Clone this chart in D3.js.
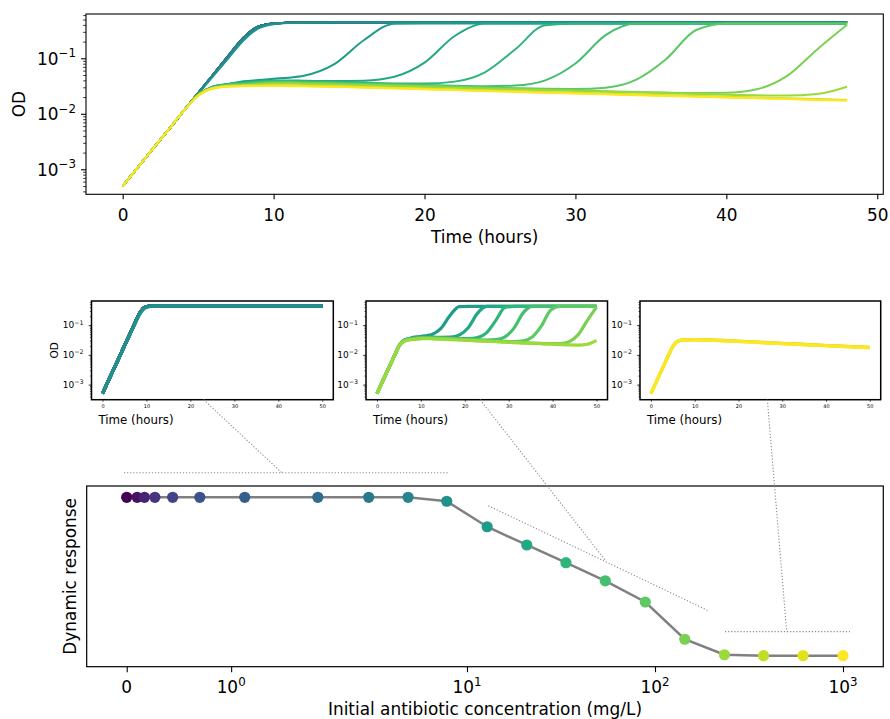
<!DOCTYPE html>
<html><head><meta charset="utf-8">
<script src="https://cdn.jsdelivr.net/npm/d3@7"></script>
<style>body{margin:0;background:#fff}svg{display:block}text{font-family:"DejaVu Sans",sans-serif;fill:#000}</style>
</head><body><svg id="chart" width="890" height="719"></svg>
<script>
// ---------------- DATA ----------------
const hours = [0,1,2,3,4,5,6,7,8,9,10,11,12,14,16,18,20,22,24,26,28,30,32,34,36,38,40,42,44,46,48];
const insetHours = [0,1.04,2.08,3.13,4.17,5.21,6.25,7.29,8.33,9.38,10.42,11.46,12.5,14.58,16.67,18.75,20.83,22.92,25,27.08,29.17,31.25,33.33,35.42,37.5,39.58,41.67,43.75,45.83,47.92,50];
const concentrations = [0,0.10,0.17,0.27,0.44,0.70,1.13,1.83,3.0,4.86,7.8,12.8,20.8,33.6,54.4,88.8,144,234,378,613,1000];
const response = [1,1,1,1,1,1,1,1,1,1,0.975,0.814,0.699,0.587,0.473,0.339,0.104,0.006,0,0,0];

const odFast = [5.0e-4,1.08e-3,2.34e-3,5.0e-3,0.0109,0.0235,0.0508,0.110,0.235,0.375,0.425,0.438,0.442,
  0.444,0.445,0.445,0.445,0.445,0.445,0.445,0.445,0.445,0.445,0.445,0.445,0.445,0.445,0.445,0.445,0.445,0.445];
const odLag = [5.0e-4,1.08e-3,2.34e-3,5.0e-3,0.0108,0.0228,0.048,0.100,0.21,0.345,0.41,0.432,0.438,
  0.44,0.44,0.44,0.44,0.44,0.44,0.44,0.44,0.44,0.44,0.44,0.44,0.44,0.44,0.44,0.44,0.44,0.44];
const odA = [5.0e-4,1.08e-3,2.34e-3,5.0e-3,0.0109,0.022,0.031,0.0345,0.0385,0.0406,0.0428,0.0448,0.0486,
  0.0779,0.214,0.419,0.425,0.425,0.425,0.425,0.425,0.425,0.425,0.425,0.425,0.425,0.425,0.425,0.425,0.425,0.425];
const odB = [5.0e-4,1.08e-3,2.34e-3,5.0e-3,0.0109,0.022,0.031,0.0345,0.0372,0.0388,0.040,0.040,0.0395,
  0.0389,0.0394,0.0464,0.0834,0.252,0.4225,0.425,0.425,0.425,0.425,0.425,0.425,0.425,0.425,0.425,0.425,0.425,0.425];
const odC = [5.0e-4,1.08e-3,2.34e-3,5.0e-3,0.0109,0.022,0.0305,0.034,0.0363,0.0378,0.039,0.039,0.0384,
  0.0374,0.0363,0.0353,0.035,0.038,0.0559,0.1437,0.3956,0.4249,0.425,0.425,0.425,0.425,0.425,0.425,0.425,0.425,0.425];
const odD = [5.0e-4,1.08e-3,2.34e-3,5.0e-3,0.0109,0.022,0.030,0.0335,0.0353,0.0369,0.038,0.038,0.0374,
  0.0365,0.0353,0.0342,0.0331,0.0319,0.0313,0.0322,0.0401,0.0804,0.2619,0.4228,0.425,0.425,0.425,0.425,0.425,0.425,0.425];
const odE = [5.0e-4,1.08e-3,2.34e-3,5.0e-3,0.0109,0.022,0.0295,0.033,0.0344,0.0359,0.037,0.037,0.0364,
  0.0355,0.0344,0.0333,0.0322,0.0311,0.030,0.029,0.0282,0.0279,0.0296,0.0408,0.0962,0.3233,0.4245,0.425,0.425,0.425,0.425];
const odF = [5.0e-4,1.08e-3,2.34e-3,5.0e-3,0.0109,0.022,0.029,0.0325,0.0335,0.0349,0.036,0.036,0.0355,
  0.0346,0.0335,0.0324,0.0313,0.0302,0.0292,0.0283,0.0274,0.0265,0.0256,0.0248,0.0241,0.0237,0.0239,0.0276,0.0476,0.1431,0.4007];
const odG = [5.0e-4,1.08e-3,2.34e-3,5.0e-3,0.0109,0.022,0.0285,0.032,0.0326,0.034,0.035,0.035,0.0345,
  0.0336,0.0326,0.0315,0.0305,0.0294,0.0284,0.0275,0.0266,0.0257,0.0249,0.0242,0.0235,0.0228,0.0221,0.0215,0.0213,0.0227,0.0308];
const odY1 = [5.0e-4,1.08e-3,2.34e-3,5.0e-3,0.0109,0.0215,0.0295,0.0318,0.0324,0.0326,0.0326,0.0325,0.0322,
  0.0314,0.0305,0.0295,0.0285,0.0275,0.0265,0.0256,0.0247,0.0239,0.0231,0.0223,0.0216,0.0209,0.0202,0.0196,0.019,0.0184,0.0178];
const odY2 = [5.0e-4,1.08e-3,2.34e-3,5.0e-3,0.0109,0.0212,0.0291,0.0313,0.0319,0.0321,0.0321,0.032,0.0317,
  0.0309,0.030,0.0291,0.0281,0.0271,0.0261,0.0252,0.0243,0.0235,0.0228,0.022,0.0213,0.0206,0.0199,0.0193,0.0187,0.0181,0.0175];
const odY3 = [5.0e-4,1.08e-3,2.34e-3,5.0e-3,0.0109,0.0209,0.0286,0.0308,0.0314,0.0316,0.0316,0.0315,0.0312,
  0.0305,0.0296,0.0286,0.0276,0.0267,0.0257,0.0248,0.024,0.0232,0.0224,0.0216,0.021,0.0203,0.0196,0.019,0.0184,0.0178,0.0173];

// one OD curve per concentration (same order as concentrations)
const odCurves = [odFast,odFast,odFast,odFast,odFast,odFast,odFast,odFast,odFast,odFast,
  odLag,odA,odB,odC,odD,odE,odF,odG,odY1,odY2,odY3];

const timeTicks = [0,10,20,30,40,50];
const odTicks = [1e-3,1e-2,1e-1];
const concTicks = [0,1,10,100,1000];
const insetGroups = [[0,1,2,3,4,5,6,7,8,9,10],[11,12,13,14,15,16,17],[18,19,20]];

// ---------------- HELPERS ----------------
const FS = 16.9;
const svg = d3.select("#chart");
const color = i => d3.interpolateViridis(i / (concentrations.length - 1));
const MINUS = "\u2212";

function powLabel(textSel, exp, size){
  textSel.append("tspan").text("10");
  textSel.append("tspan").attr("font-size", size*0.7).attr("dy", -size*0.42).text(exp < 0 ? MINUS + Math.abs(exp) : String(exp));
}
function minorLog(domain){
  const out = [];
  for (let e = -5; e <= 1; e++) for (let m = 2; m <= 9; m++){
    const v = m * Math.pow(10, e);
    if (v >= domain[0] && v <= domain[1]) out.push(v);
  }
  return out;
}

// ---------------- TOP CHART ----------------
const T = {l:86, r:883.3, t:14, b:194.3};
const xTop = d3.scaleLinear().domain([-2.43, 50.40]).range([T.l, T.r]);
const yTop = d3.scaleLog().domain([3.543e-4, 0.6283]).range([T.b, T.t]);
const gTop = svg.append("g");

svg.append("clipPath").attr("id","clipTop").append("rect").attr("x",T.l).attr("y",T.t).attr("width",T.r-T.l).attr("height",T.b-T.t);
const lineTop = d3.line().x((d,i)=>xTop(hours[i])).y(d=>yTop(d)).curve(d3.curveMonotoneX);
const gLines = gTop.append("g").attr("clip-path","url(#clipTop)");
odCurves.forEach((c,k)=>{
  gLines.append("path").attr("d", lineTop(c)).attr("fill","none")
    .attr("stroke", color(k)).attr("stroke-width", 2).attr("stroke-linejoin","round");
});

// axes
const axXTop = d3.axisBottom(xTop).tickValues(timeTicks).tickSize(5).tickPadding(4).tickFormat(d3.format("d"));
const gx = gTop.append("g").attr("transform",`translate(0,${T.b})`).call(axXTop);
gx.select(".domain").remove();
gx.selectAll("text").attr("font-size",FS).attr("font-family","DejaVu Sans").attr("fill","#000").attr("dy",null).attr("y",26.4);
gx.selectAll("line").attr("stroke","#000").attr("stroke-width",1.1);

const axYTop = d3.axisLeft(yTop).tickValues(odTicks).tickSize(5).tickFormat("");
const gy = gTop.append("g").attr("transform",`translate(${T.l},0)`).call(axYTop);
gy.select(".domain").remove();
gy.selectAll("line").attr("stroke","#000").attr("stroke-width",1.1);
const gym = gTop.append("g").attr("transform",`translate(${T.l},0)`)
  .call(d3.axisLeft(yTop).tickValues(minorLog(yTop.domain())).tickSize(2.8).tickFormat(""));
gym.select(".domain").remove();
gym.selectAll("line").attr("stroke","#000").attr("stroke-width",0.8);
odTicks.forEach(v=>{
  const t = gTop.append("text").attr("x", T.l - 10).attr("y", yTop(v) + 6.3)
    .attr("text-anchor","end").attr("font-size",FS);
  powLabel(t, Math.round(Math.log10(v)), FS);
});
gTop.append("rect").attr("x",T.l).attr("y",T.t).attr("width",T.r-T.l).attr("height",T.b-T.t)
  .attr("fill","none").attr("stroke","#000").attr("stroke-width",1.1);
gTop.append("text").attr("x",(T.l+T.r)/2).attr("y",242.5).attr("text-anchor","middle").attr("font-size",FS).text("Time (hours)");
gTop.append("text").attr("transform",`translate(25,${(T.t+T.b)/2}) rotate(-90)`).attr("text-anchor","middle").attr("font-size",FS).text("OD");

// ---------------- INSETS ----------------
const insetBoxes = [
  {l:91.5, r:333.3, t:301, b:399.7, ylabel:true},
  {l:366, r:607.5, t:301, b:399.7, ylabel:false},
  {l:640, r:880.7, t:301, b:399.7, ylabel:false}
];
const insetScales = insetBoxes.map((B,gi)=>{
  const xi = d3.scaleLinear().domain([-2.5, 52.5]).range([B.l, B.r]);
  const yi = d3.scaleLog().domain([3.1e-4, 0.645]).range([B.b, B.t]);
  const g = svg.append("g");
  svg.append("clipPath").attr("id","clipIn"+gi).append("rect").attr("x",B.l).attr("y",B.t).attr("width",B.r-B.l).attr("height",B.b-B.t);
  const ln = d3.line().x((d,i)=>xi(insetHours[i])).y(d=>yi(d)).curve(d3.curveMonotoneX);
  const gl = g.append("g").attr("clip-path",`url(#clipIn${gi})`);
  insetGroups[gi].forEach(k=>{
    gl.append("path").attr("d", ln(odCurves[k])).attr("fill","none")
      .attr("stroke", color(k)).attr("stroke-width", 3.2).attr("stroke-linejoin","round");
  });
  const ax = g.append("g").attr("transform",`translate(0,${B.b})`)
    .call(d3.axisBottom(xi).tickValues(timeTicks).tickSize(2).tickPadding(1.5).tickFormat(d3.format("d")));
  ax.select(".domain").remove();
  ax.selectAll("line").attr("stroke","#000").attr("stroke-width",0.7);
  ax.selectAll("text").attr("font-size",5).attr("fill","#222").attr("dy",null).attr("y",8.8);
  const ay = g.append("g").attr("transform",`translate(${B.l},0)`)
    .call(d3.axisLeft(yi).tickValues(odTicks).tickSize(2.8).tickFormat(""));
  ay.select(".domain").remove();
  ay.selectAll("line").attr("stroke","#000").attr("stroke-width",0.8);
  const aym = g.append("g").attr("transform",`translate(${B.l},0)`)
    .call(d3.axisLeft(yi).tickValues(minorLog(yi.domain())).tickSize(1.6).tickFormat(""));
  aym.select(".domain").remove();
  aym.selectAll("line").attr("stroke","#000").attr("stroke-width",0.6);
  odTicks.forEach(v=>{
    const t = g.append("text").attr("x", B.l - 8).attr("y", yi(v) + 3.3)
      .attr("text-anchor","end").attr("font-size",9).attr("fill","#222");
    powLabel(t, Math.round(Math.log10(v)), 9);
  });
  g.append("rect").attr("x",B.l).attr("y",B.t).attr("width",B.r-B.l).attr("height",B.b-B.t)
    .attr("fill","none").attr("stroke","#000").attr("stroke-width",1.5);
  g.append("text").attr("x",B.l+7).attr("y",424).attr("font-size",11.8).text("Time (hours)");
  if (B.ylabel) g.append("text").attr("transform",`translate(${B.l-34},${(B.t+B.b)/2}) rotate(-90)`)
    .attr("text-anchor","middle").attr("font-size",10.5).text("OD");
  return {xi, yi, B};
});

// ---------------- BOTTOM CHART ----------------
const LINTHRESH = 2, LINSCALE_ADJ = 1/(1-1/10);
function symlog(v){
  const a = Math.abs(v);
  return a <= LINTHRESH ? v*LINSCALE_ADJ : Math.sign(v)*LINTHRESH*(LINSCALE_ADJ + Math.log10(a/LINTHRESH));
}
const Bt = {l:86.7, r:883.3, t:486, b:666.7};
const xBotLin = d3.scaleLinear().domain([-0.4255, 8.049]).range([Bt.l, Bt.r]);
const xBot = v => xBotLin(symlog(v));
const yBot = d3.scaleLinear().domain([-0.0694, 1.0713]).range([Bt.b, Bt.t]);
const gBot = svg.append("g");

const respLine = d3.line().x((d,i)=>xBot(concentrations[i])).y(d=>yBot(d));
gBot.append("path").attr("d", respLine(response)).attr("fill","none").attr("stroke","#808080").attr("stroke-width",2.5);
gBot.selectAll("circle.pt").data(response).join("circle").attr("class","pt")
  .attr("cx",(d,i)=>xBot(concentrations[i])).attr("cy",d=>yBot(d)).attr("r",5.6)
  .attr("fill",(d,i)=>color(i));

const axB = gBot.append("g").attr("transform",`translate(0,${Bt.b})`)
  .call(d3.axisBottom(xBotLin).tickValues(concTicks.map(symlog)).tickSize(5.5).tickFormat(""));
axB.select(".domain").remove();
axB.selectAll("line").attr("stroke","#000").attr("stroke-width",1.1);
concTicks.forEach(v=>{
  const t = gBot.append("text").attr("x", xBot(v)).attr("y", 693.3).attr("text-anchor","middle").attr("font-size",FS);
  if (v === 0) t.text("0"); else powLabel(t, Math.round(Math.log10(v)), FS);
});
gBot.append("rect").attr("x",Bt.l).attr("y",Bt.t).attr("width",Bt.r-Bt.l).attr("height",Bt.b-Bt.t)
  .attr("fill","none").attr("stroke","#000").attr("stroke-width",1.2);
gBot.append("text").attr("x",(Bt.l+Bt.r)/2).attr("y",715).attr("text-anchor","middle").attr("font-size",FS)
  .text("Initial antibiotic concentration (mg/L)");
gBot.append("text").attr("transform",`translate(75.5,${(Bt.t+Bt.b)/2}) rotate(-90)`).attr("text-anchor","middle")
  .attr("font-size",FS).text("Dynamic response");

// ---------------- ANNOTATIONS (dotted brackets & connectors) ----------------
const dotted = g => g.attr("stroke","#8a8a8a").attr("stroke-width",1.1).attr("stroke-dasharray","1.2,1.9").attr("fill","none");
const brackets = [
  {x0:-0.026, y0:1.155, x1:7.95, y1:1.155},
  {x0:12.98, y0:0.947, x1:192, y1:0.284},
  {x0:235.7, y0:0.152, x1:1089, y1:0.152}
];
const connectors = [
  {inset:0, t:23.0, x:1.485, y:1.155},
  {inset:1, t:23.5, x:54.2, y:0.604},
  {inset:2, t:26.6, x:501.8, y:0.152}
];
const gAnn = svg.append("g");
brackets.forEach(b=>{
  gAnn.append("line").attr("x1",xBot(b.x0)).attr("y1",yBot(b.y0)).attr("x2",xBot(b.x1)).attr("y2",yBot(b.y1)).call(dotted);
});
connectors.forEach(c=>{
  const S = insetScales[c.inset];
  gAnn.append("line").attr("x1",S.xi(c.t)).attr("y1",S.B.b).attr("x2",xBot(c.x)).attr("y2",yBot(c.y)).call(dotted);
});
</script>
</body></html>
